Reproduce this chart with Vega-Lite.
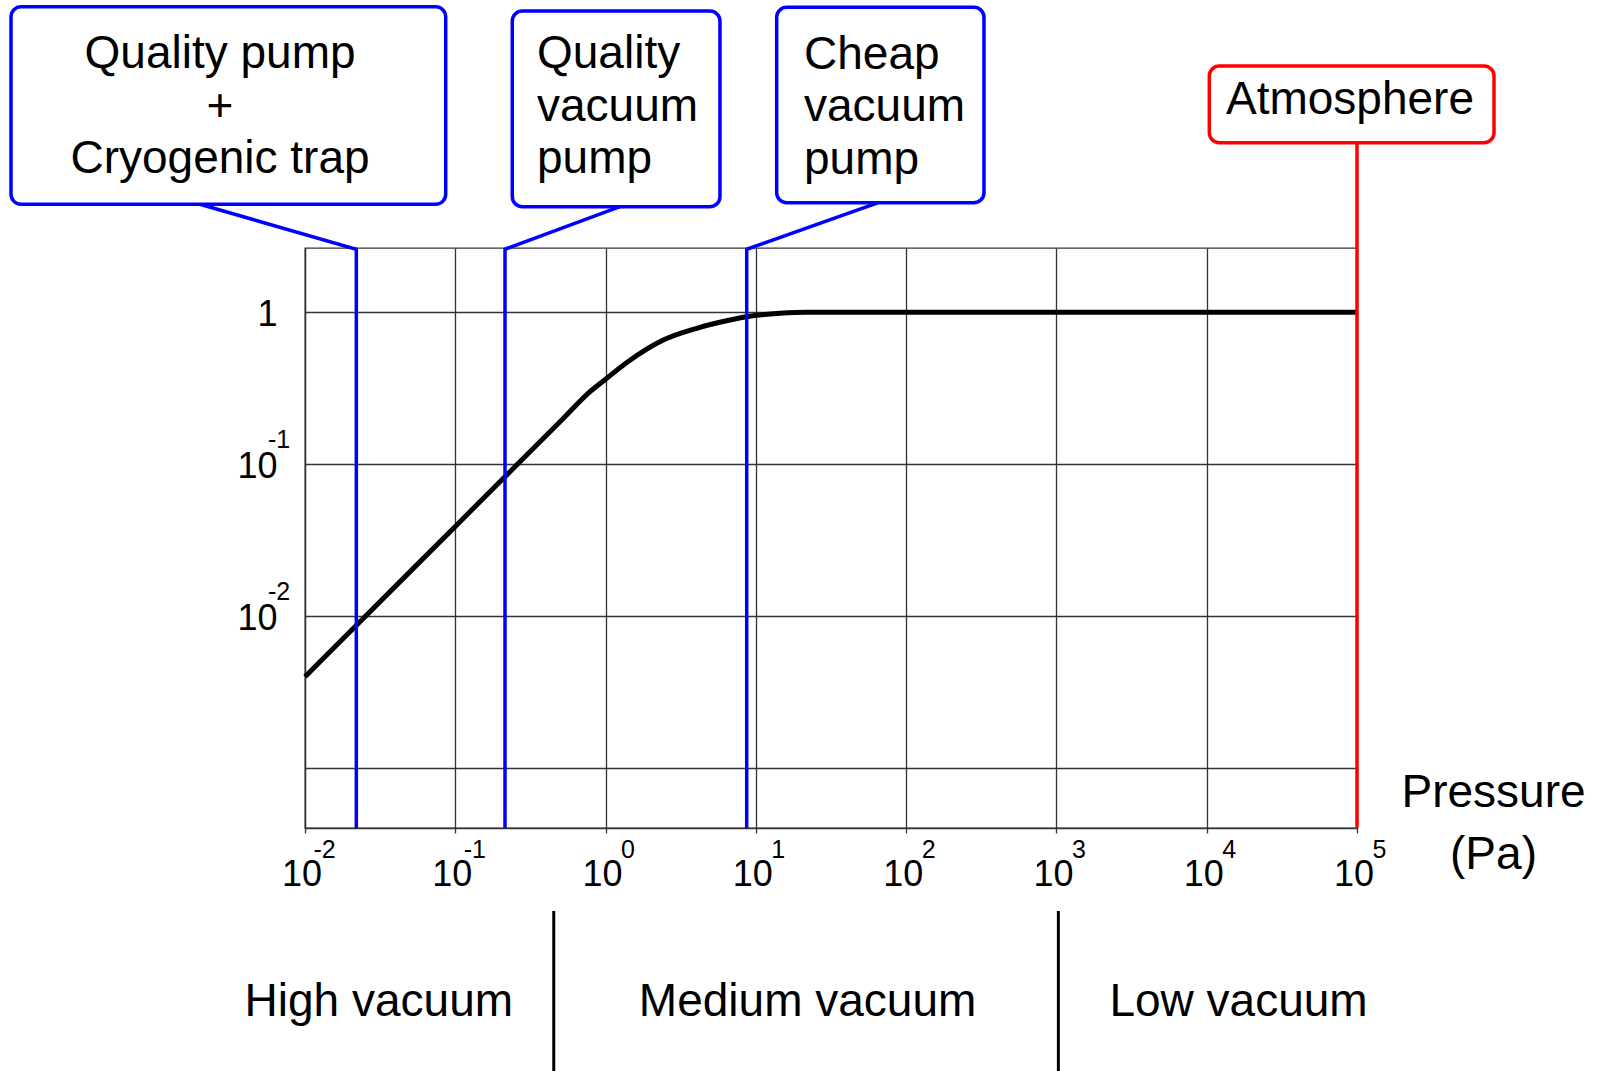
{
  "$schema": "https://vega.github.io/schema/vega-lite/v6.json",
  "width": 1052,
  "height": 580,
  "autosize": {"type": "none"},
  "padding": {"left": 305, "top": 248, "right": 248, "bottom": 243},
  "background": "white",
  "config": {
    "font": "Liberation Sans",
    "view": {"stroke": "#333333", "strokeWidth": 1.3}
  },
  "datasets": {
    "curve": [
      {"p": 0.01, "v": 0.00397},
      {"p": 0.022, "v": 0.00867},
      {"p": 0.1, "v": 0.0388},
      {"p": 0.214, "v": 0.0824},
      {"p": 0.314, "v": 0.1204},
      {"p": 0.523, "v": 0.1996},
      {"p": 0.788, "v": 0.2995},
      {"p": 1.0, "v": 0.362},
      {"p": 1.4, "v": 0.47},
      {"p": 2.42, "v": 0.656},
      {"p": 4.04, "v": 0.784},
      {"p": 6.73, "v": 0.889},
      {"p": 8.69, "v": 0.934},
      {"p": 14.5, "v": 0.984},
      {"p": 22, "v": 1.0},
      {"p": 100000, "v": 1.0}
    ],
    "connectors": [
      {"id": "c1", "ord": 1, "p": 0.002, "v": 5.142},
      {"id": "c1", "ord": 2, "p": 0.02195, "v": 2.598},
      {"id": "c1", "ord": 3, "p": 0.02195, "v": 0.0004},
      {"id": "c2", "ord": 1, "p": 1.247, "v": 4.958},
      {"id": "c2", "ord": 2, "p": 0.2142, "v": 2.598},
      {"id": "c2", "ord": 3, "p": 0.2142, "v": 0.0004},
      {"id": "c3", "ord": 1, "p": 65.27, "v": 5.268},
      {"id": "c3", "ord": 2, "p": 8.692, "v": 2.598},
      {"id": "c3", "ord": 3, "p": 8.692, "v": 0.0004}
    ],
    "atmLine": [{"p": 100000, "v": 13.09, "v2": 0.0004}],
    "blueBoxes": [
      {"p1": 0.0001106, "p2": 0.08634, "v1": 5.142, "v2": 103.0},
      {"p1": 0.2395, "p2": 5.77, "v1": 4.958, "v2": 96.5},
      {"p1": 13.76, "p2": 329.6, "v1": 5.268, "v2": 102.1}
    ],
    "redBoxes": [
      {"p1": 10404, "p2": 815900, "v1": 13.09, "v2": 41.9}
    ],
    "centerTexts": [
      {"p": 0.00272, "v": 40.46, "label": "Quality pump\n+\nCryogenic trap"},
      {"p": 89830, "v": 20.23, "label": "Atmosphere"},
      {"p": 0.03098, "v": 0.0000231, "label": "High vacuum"},
      {"p": 22.09, "v": 0.0000231, "label": "Medium vacuum"},
      {"p": 16275, "v": 0.0000231, "label": "Low vacuum"}
    ],
    "leftTexts": [
      {"p": 0.3497, "v": 40.46, "label": "Quality\nvacuum\npump"},
      {"p": 20.91, "v": 40.05, "label": "Cheap\nvacuum\npump"}
    ],
    "separators": [
      {"p": 0.452, "v": 0.0001136, "v2": 0.00001},
      {"p": 1030, "v": 0.0001136, "v2": 0.00001}
    ],
    "yLabels": [
      {"v": 1, "base": "1", "exp": ""},
      {"v": 0.1, "base": "10", "exp": "-1"},
      {"v": 0.01, "base": "10", "exp": "-2"}
    ],
    "xLabels": [
      {"p": 0.01, "base": "10", "exp": "-2"},
      {"p": 0.1, "base": "10", "exp": "-1"},
      {"p": 1, "base": "10", "exp": "0"},
      {"p": 10, "base": "10", "exp": "1"},
      {"p": 100, "base": "10", "exp": "2"},
      {"p": 1000, "base": "10", "exp": "3"},
      {"p": 10000, "base": "10", "exp": "4"},
      {"p": 100000, "base": "10", "exp": "5"}
    ]
  },
  "layer": [
    {
      "data": {"name": "curve"},
      "mark": {"type": "line", "color": "black", "strokeWidth": 5, "interpolate": "monotone"},
      "encoding": {
        "x": {
          "field": "p", "type": "quantitative",
          "scale": {"type": "log", "domain": [0.01, 100000], "nice": false},
          "axis": {
            "values": [0.01, 0.1, 1, 10, 100, 1000, 10000, 100000],
            "grid": true, "gridColor": "#333333", "gridWidth": 1.3, "gridOpacity": 1,
            "labels": false,
            "ticks": true, "tickSize": 5, "tickColor": "#333333", "tickWidth": 1.3,
            "domainColor": "#333333", "domainWidth": 1.3,
            "title": ["Pressure", "(Pa)"],
            "titleFontSize": 46, "titleFontWeight": "normal", "titleColor": "black",
            "titleAlign": "center", "titleBaseline": "alphabetic",
            "titleX": 1188, "titleY": -22, "titleLineHeight": 62
          }
        },
        "y": {
          "field": "v", "type": "quantitative",
          "scale": {"type": "log", "domain": [0.0004, 2.65], "nice": false},
          "axis": {
            "values": [0.001, 0.01, 0.1, 1],
            "grid": true, "gridColor": "#333333", "gridWidth": 1.3, "gridOpacity": 1,
            "labels": false, "ticks": false,
            "domainColor": "#333333", "domainWidth": 1.3,
            "title": null
          }
        }
      }
    },
    {
      "data": {"name": "connectors"},
      "mark": {"type": "line", "color": "#0000ff", "strokeWidth": 3.5, "strokeJoin": "miter"},
      "encoding": {
        "x": {"field": "p", "type": "quantitative"},
        "y": {"field": "v", "type": "quantitative"},
        "detail": {"field": "id"},
        "order": {"field": "ord"}
      }
    },
    {
      "data": {"name": "atmLine"},
      "mark": {"type": "rule", "color": "#ff0000", "strokeWidth": 3.5},
      "encoding": {
        "x": {"field": "p", "type": "quantitative"},
        "y": {"field": "v", "type": "quantitative"},
        "y2": {"field": "v2"}
      }
    },
    {
      "data": {"name": "blueBoxes"},
      "mark": {"type": "rect", "fill": "white", "stroke": "#0000ff", "strokeWidth": 3.5, "cornerRadius": 10},
      "encoding": {
        "x": {"field": "p1", "type": "quantitative"},
        "x2": {"field": "p2"},
        "y": {"field": "v1", "type": "quantitative"},
        "y2": {"field": "v2"}
      }
    },
    {
      "data": {"name": "redBoxes"},
      "mark": {"type": "rect", "fill": "white", "stroke": "#ff0000", "strokeWidth": 3.5, "cornerRadius": 10},
      "encoding": {
        "x": {"field": "p1", "type": "quantitative"},
        "x2": {"field": "p2"},
        "y": {"field": "v1", "type": "quantitative"},
        "y2": {"field": "v2"}
      }
    },
    {
      "data": {"name": "centerTexts"},
      "mark": {"type": "text", "align": "center", "baseline": "alphabetic", "fontSize": 46, "lineBreak": "\n", "lineHeight": 52.5, "color": "black"},
      "encoding": {
        "x": {"field": "p", "type": "quantitative"},
        "y": {"field": "v", "type": "quantitative"},
        "text": {"field": "label"}
      }
    },
    {
      "data": {"name": "leftTexts"},
      "mark": {"type": "text", "align": "left", "baseline": "alphabetic", "fontSize": 46, "lineBreak": "\n", "lineHeight": 52.5, "color": "black"},
      "encoding": {
        "x": {"field": "p", "type": "quantitative"},
        "y": {"field": "v", "type": "quantitative"},
        "text": {"field": "label"}
      }
    },
    {
      "data": {"name": "separators"},
      "mark": {"type": "rule", "color": "black", "strokeWidth": 3},
      "encoding": {
        "x": {"field": "p", "type": "quantitative"},
        "y": {"field": "v", "type": "quantitative"},
        "y2": {"field": "v2"}
      }
    },
    {
      "data": {"name": "yLabels"},
      "mark": {"type": "text", "align": "right", "baseline": "alphabetic", "fontSize": 36, "dx": -27.5, "dy": 14, "color": "black"},
      "encoding": {
        "x": {"datum": 0.01, "type": "quantitative"},
        "y": {"field": "v", "type": "quantitative"},
        "text": {"field": "base"}
      }
    },
    {
      "data": {"name": "yLabels"},
      "mark": {"type": "text", "align": "left", "baseline": "alphabetic", "fontSize": 25, "dx": -37, "dy": -16, "color": "black"},
      "encoding": {
        "x": {"datum": 0.01, "type": "quantitative"},
        "y": {"field": "v", "type": "quantitative"},
        "text": {"field": "exp"}
      }
    },
    {
      "data": {"name": "xLabels"},
      "mark": {"type": "text", "align": "center", "baseline": "alphabetic", "fontSize": 36, "dx": -3, "dy": 58, "color": "black"},
      "encoding": {
        "x": {"field": "p", "type": "quantitative"},
        "y": {"datum": 0.0004, "type": "quantitative"},
        "text": {"field": "base"}
      }
    },
    {
      "data": {"name": "xLabels"},
      "transform": [{"filter": "datum.p < 1"}],
      "mark": {"type": "text", "align": "left", "baseline": "alphabetic", "fontSize": 25, "dx": 8.5, "dy": 30, "color": "black"},
      "encoding": {
        "x": {"field": "p", "type": "quantitative"},
        "y": {"datum": 0.0004, "type": "quantitative"},
        "text": {"field": "exp"}
      }
    },
    {
      "data": {"name": "xLabels"},
      "transform": [{"filter": "datum.p >= 1"}],
      "mark": {"type": "text", "align": "left", "baseline": "alphabetic", "fontSize": 25, "dx": 15.5, "dy": 30, "color": "black"},
      "encoding": {
        "x": {"field": "p", "type": "quantitative"},
        "y": {"datum": 0.0004, "type": "quantitative"},
        "text": {"field": "exp"}
      }
    }
  ]
}
